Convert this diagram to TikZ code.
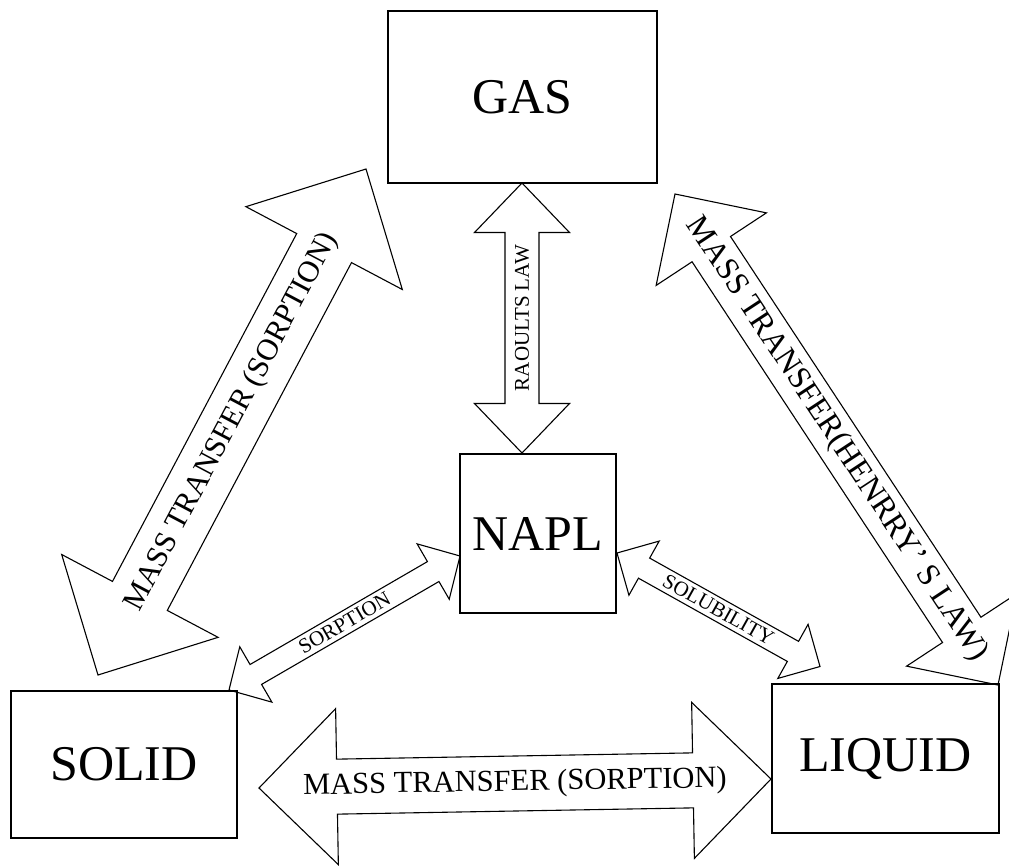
\documentclass[tikz,border=0pt]{standalone}
\usepackage{fontspec}
\setmainfont{Liberation Serif}
\usetikzlibrary{calc}
\tikzset{
  box/.style={draw, line width=1.2pt, inner sep=0pt, font=\fontsize{50}{60}\selectfont},
  blk/.style={draw, line width=1.1pt, line join=miter},
  biglbl/.style={font=\fontsize{30.5}{36}\selectfont, inner sep=0pt},
  smalllbl/.style={font=\fontsize{21}{25}\selectfont, inner sep=0pt},
}
% #1 tip A, #2 tip B, #3 shaft half width, #4 head half width, #5 head length
\newcommand\blockarr[5]{%
  \coordinate (ba-ha) at ($(#1)!#5!(#2)$);
  \coordinate (ba-hb) at ($(#2)!#5!(#1)$);
  \draw[blk] (#1) -- ($(ba-ha)!#4!90:(#1)$) -- ($(ba-ha)!#3!90:(#1)$)
    -- ($(ba-hb)!#3!-90:(#2)$) -- ($(ba-hb)!#4!-90:(#2)$) -- (#2)
    -- ($(ba-hb)!#4!90:(#2)$) -- ($(ba-hb)!#3!90:(#2)$)
    -- ($(ba-ha)!#3!-90:(#1)$) -- ($(ba-ha)!#4!-90:(#1)$) -- cycle;
}
\begin{document}
\begin{tikzpicture}[x=1pt,y=-1pt]
\useasboundingbox (0,0) rectangle (1009,865);
% boxes
\node[box, minimum width=269pt, minimum height=172pt] (gas) at (522.5,97) {GAS};
\node[box, minimum width=156pt, minimum height=159pt] (napl) at (538,533.5) {NAPL};
\node[box, minimum width=226pt, minimum height=147pt] (solid) at (124,764.5) {SOLID};
\node[box, minimum width=227pt, minimum height=149pt] (liquid) at (885.5,758.5) {LIQUID};
% arrow end points
\coordinate (rl-a) at (522,183);
\coordinate (rl-b) at (522,453);
\coordinate (ls-a) at (366,169);
\coordinate (ls-b) at (98,675);
\coordinate (rh-a) at (675,194);
\coordinate (rh-b) at (998,685);
\coordinate (bm-a) at (259,788);
\coordinate (bm-b) at (771,779);
\coordinate (so-a) at (460,556);
\coordinate (so-b) at (229,690);
\coordinate (su-a) at (617,553);
\coordinate (su-b) at (820,666.5);
% block arrows
\blockarr{rl-a}{rl-b}{17pt}{47.5pt}{49.5pt}
\blockarr{ls-a}{ls-b}{31pt}{88.5pt}{89.5pt}
\blockarr{rh-a}{rh-b}{23pt}{66pt}{66pt}
\blockarr{bm-a}{bm-b}{27.5pt}{78pt}{78pt}
\blockarr{so-a}{so-b}{11.5pt}{32pt}{31pt}
\blockarr{su-a}{su-b}{11.5pt}{31pt}{31pt}
% labels
\node[smalllbl, rotate=90] (rl-t) at ($(rl-a)!.5!(rl-b)$) {RAOULTS LAW};
\path (ls-b) -- node[sloped, biglbl] (ls-t) {MASS TRANSFER (SORPTION)} (ls-a);
\path (rh-a) -- node[sloped, biglbl, font=\fontsize{32}{38}\selectfont] (rh-t) {MASS TRANSFER(HENRRY’ S LAW)} (rh-b);
\path (bm-a) -- node[sloped, biglbl] (bm-t) {MASS TRANSFER (SORPTION)} (bm-b);
\path (so-b) -- node[sloped, smalllbl] (so-t) {SORPTION} (so-a);
\path (su-a) -- node[sloped, smalllbl] (su-t) {SOLUBILITY} (su-b);
\end{tikzpicture}
\end{document}
